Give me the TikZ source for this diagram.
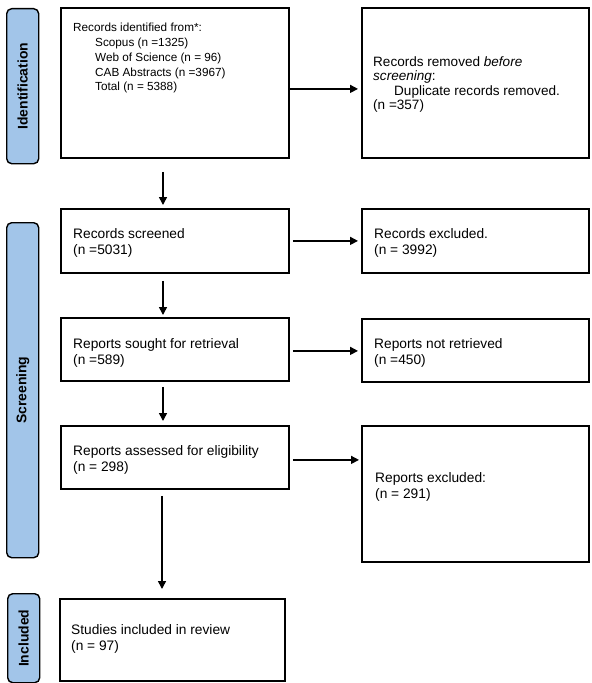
\documentclass[tikz,border=0pt]{standalone}
\usepackage{fontspec}
\setmainfont{Liberation Sans}
\usetikzlibrary{arrows.meta}
\definecolor{barblue}{RGB}{162,197,233}
\begin{document}
\begin{tikzpicture}[x=1bp,y=-1bp,
  box/.style={draw, line width=1.8bp, anchor=north west, inner sep=0pt, rectangle},
  bar/.style={draw, fill=barblue, line width=1.4bp, rounded corners=5bp, anchor=north west, inner sep=0pt, rectangle},
  barlabel/.style={rotate=90, inner sep=0pt, font=\fontsize{14}{16}\selectfont\bfseries},
  txt/.style={anchor=north west, inner sep=0pt, align=left, font=\fontsize{13.8}{16.5}\selectfont},
  txtb/.style={anchor=north west, inner sep=0pt, align=left, font=\fontsize{11.8}{15}\selectfont},
  txtr/.style={anchor=north west, inner sep=0pt, align=left, font=\fontsize{13.6}{14.7}\selectfont},
  arr/.style={line width=1.5bp, -{Triangle[length=8bp,width=8bp]}}]
\useasboundingbox (0,0) rectangle (592,683);
\fill[white] (0,0) rectangle (592,683);

% phase bars
\node[bar, minimum width=32bp, minimum height=155bp] (idbar) at (6,8) {};
\node[barlabel] (idlab) at (idbar.center) {Identification};
\node[bar, minimum width=32bp, minimum height=335bp] (scbar) at (6,222) {};
\node[barlabel] (sclab) at (scbar.center) {Screening};
\node[bar, minimum width=32bp, minimum height=89bp] (inbar) at (7,593) {};
\node[barlabel] (inlab) at (inbar.center) {Included};

% boxes
\node[box, minimum width=228bp, minimum height=150bp] (b1) at (60,7) {};
\node[box, minimum width=227bp, minimum height=150bp] (rem) at (361,7) {};
\node[box, minimum width=228bp, minimum height=64bp] (scr) at (60,208) {};
\node[box, minimum width=227bp, minimum height=64bp] (exc) at (361,208) {};
\node[box, minimum width=228bp, minimum height=63bp] (sou) at (60,317) {};
\node[box, minimum width=227bp, minimum height=63bp] (nre) at (361,318) {};
\node[box, minimum width=228bp, minimum height=63bp] (ass) at (60,425) {};
\node[box, minimum width=227bp, minimum height=136bp] (rex) at (361,425) {};
\node[box, minimum width=225bp, minimum height=82bp] (inc) at (59,598) {};

% texts
\node[txtb] (t1) at (73,22.5) {Records identified from*:\\
  \hspace*{22bp}Scopus (n =1325)\\
  \hspace*{22bp}Web of Science (n = 96)\\
  \hspace*{22bp}CAB Abstracts (n =3967)\\
  \hspace*{22bp}Total (n = 5388)};
\node[txtr] (trem) at (373,56) {Records removed \textit{before}\\
  \textit{screening}:\\
  \hspace*{21bp}Duplicate records removed.\\
  (n =357)};
\node[txt] (tscr) at (73,228) {Records screened\\(n =5031)};
\node[txt] (texc) at (374,228) {Records excluded.\\(n = 3992)};
\node[txt] (tsou) at (73,338) {Reports sought for retrieval\\(n =589)};
\node[txt] (tnre) at (374,338) {Reports not retrieved\\(n =450)};
\node[txt] (tass) at (73,445) {Reports assessed for eligibility\\(n = 298)};
\node[txt] (trex) at (375,472) {Reports excluded:\\(n = 291)};
\node[txt] (tinc) at (71,624) {Studies included in review\\(n = 97)};

% connectors
\coordinate (colx) at (163,0);
\coordinate (colx2) at (162,0);
\draw[arr, shorten <=13bp, shorten >=3bp] (b1.south -| colx) -- (scr.north -| colx);
\draw[arr, shorten <=7bp, shorten >=2bp] (scr.south -| colx) -- (sou.north -| colx);
\draw[arr, shorten <=5bp, shorten >=4bp] (sou.south -| colx) -- (ass.north -| colx);
\draw[arr, shorten <=6bp, shorten >=9bp] (ass.south -| colx2) -- (inc.north -| colx2);
\draw[arr, shorten >=3bp] ([yshift=-6bp]b1.east) -- ([yshift=-6bp]rem.west);
\draw[arr, shorten <=3bp, shorten >=3bp] (scr.east) -- (scr.east -| exc.west);
\draw[arr, shorten <=3bp, shorten >=3bp] ([yshift=-1.5bp]sou.east) -- ([yshift=-1.5bp]sou.east -| nre.west);
\draw[arr, shorten <=3bp, shorten >=2bp] ([yshift=-2.5bp]ass.east) -- ([yshift=-2.5bp]ass.east -| rex.west);
\end{tikzpicture}
\end{document}
